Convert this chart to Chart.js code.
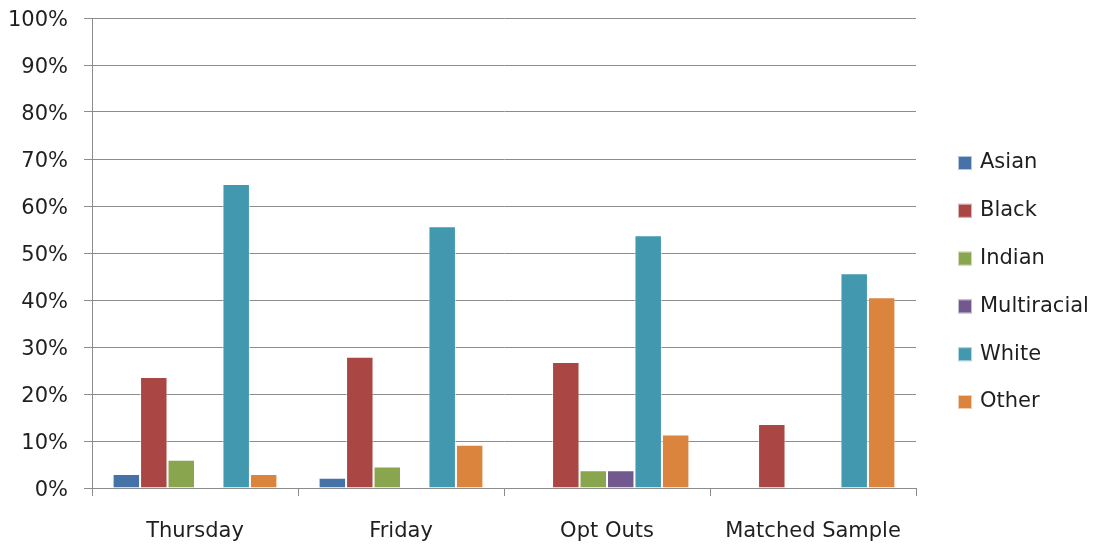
<!DOCTYPE html>
<html>
<head>
<meta charset="utf-8">
<script src="https://cdn.jsdelivr.net/npm/chart.js@4"></script>
<style>
  html, body { margin: 0; padding: 0; background: #fff; }
  #wrap { width: 1099px; height: 548px; }
</style>
</head>
<body>
<div id="wrap"><canvas id="c" width="1099" height="548"></canvas></div>
<script>
// Share of each group per sample (%)
const categories = ['Thursday', 'Friday', 'Opt Outs', 'Matched Sample'];
const asian       = [3.0, 2.2, 0, 0];
const black       = [23.6, 27.9, 26.8, 13.6];
const indian      = [6.0, 4.6, 3.8, 0];
const multiracial = [0, 0, 3.8, 0];
const white       = [64.7, 55.7, 53.8, 45.7];
const other       = [3.0, 9.2, 11.4, 40.6];
const yTicks = [0, 10, 20, 30, 40, 50, 60, 70, 80, 90, 100];

const FONT = "'DejaVu Sans', sans-serif";
const FONT_SIZE = 21;
const TEXT = '#1f1f1f';
const GRID = '#8c8c8c';

const series = [
  ['Asian', asian, '#4572A7'],
  ['Black', black, '#AA4643'],
  ['Indian', indian, '#89A54E'],
  ['Multiracial', multiracial, '#71588F'],
  ['White', white, '#4198AF'],
  ['Other', other, '#DB843D']
];

// Vertical legend drawn in the space reserved to the right of the plot
const sideLegend = {
  id: 'sideLegend',
  afterDraw(chart) {
    const ctx = chart.ctx;
    const boxX = chart.chartArea.right + 42;
    const firstY = 163, step = 47.8, box = 14;
    ctx.save();
    ctx.font = FONT_SIZE + 'px ' + FONT;
    ctx.textBaseline = 'middle';
    ctx.textAlign = 'left';
    chart.data.datasets.forEach((ds, i) => {
      const cy = firstY + i * step;
      ctx.fillStyle = ds.backgroundColor;
      ctx.fillRect(boxX, cy - box / 2, box, box);
      ctx.strokeStyle = 'rgba(255,255,255,0.6)';
      ctx.lineWidth = 1;
      ctx.strokeRect(boxX + 0.5, cy - box / 2 + 0.5, box - 1, box - 1);
      ctx.fillStyle = TEXT;
      ctx.fillText(ds.label, boxX + box + 8, cy);
    });
    ctx.restore();
  }
};

new Chart(document.getElementById('c'), {
  type: 'bar',
  data: {
    labels: categories,
    datasets: series.map(([label, data, color]) => ({
      label, data,
      backgroundColor: color,
      borderColor: 'rgba(255,255,255,0.55)',
      borderWidth: 1,
      barPercentage: 1.0,
      categoryPercentage: 0.8
    }))
  },
  plugins: [sideLegend],
  options: {
    responsive: false,
    animation: false,
    devicePixelRatio: 1,
    layout: { padding: { left: 0, top: 18, right: 183, bottom: 0 } },
    plugins: {
      tooltip: { enabled: false },
      legend: { display: false }
    },
    scales: {
      x: {
        afterFit: (s) => { s.height = 60; },
        grid: { display: true, drawOnChartArea: false, offset: true, color: GRID, tickLength: 8 },
        border: { color: GRID },
        ticks: { font: { family: FONT, size: FONT_SIZE }, color: TEXT, padding: 23, maxRotation: 0 }
      },
      y: {
        min: 0, max: 100,
        afterFit: (s) => { s.width = 92; s.paddingTop = 0; s.paddingBottom = 0; },
        afterBuildTicks: (axis) => { axis.ticks = yTicks.map(v => ({ value: v })); },
        grid: { color: GRID, tickLength: 8 },
        border: { color: GRID },
        ticks: {
          font: { family: FONT, size: FONT_SIZE }, color: TEXT, padding: 16, labelOffset: 3,
          callback: (v) => v + '%'
        }
      }
    }
  }
});
</script>
</body>
</html>
